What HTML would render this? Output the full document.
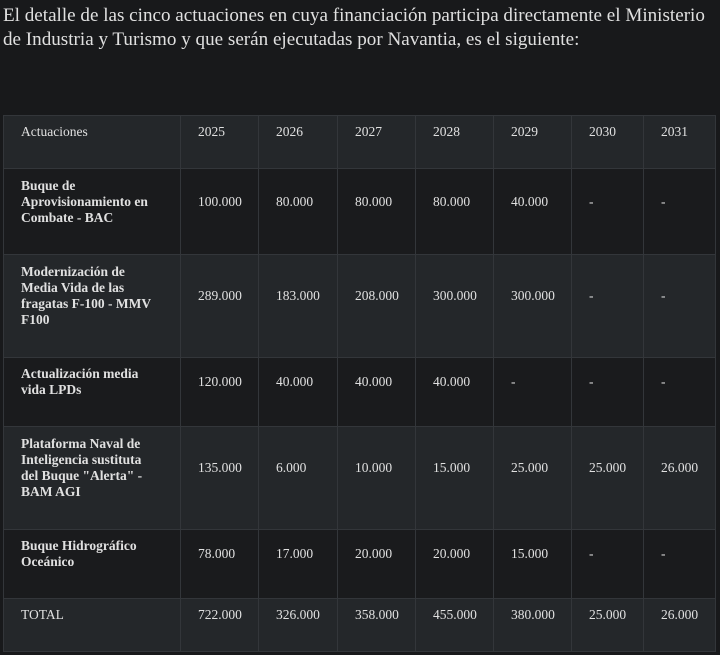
<!DOCTYPE html>
<html><head><meta charset="utf-8"><style>
body{margin:0;width:720px;height:655px;background:#18191b;color:#e0e0e0;font-family:"Liberation Serif",serif;overflow:hidden;position:relative}
#t{position:absolute;left:3px;top:4px;width:716px;font-size:19.1px;line-height:24px;margin:0;font-weight:normal;white-space:nowrap}
table{position:absolute;left:3px;top:115px;border-collapse:collapse;font-size:13.5px;line-height:16px}
td{border:1px solid #33363a;padding:8px 6px 28px 17px;vertical-align:middle;box-sizing:border-box;white-space:nowrap}
tr.l td{background:#24272a}
tr.d td{background:#1a1b1d}
td.n{font-weight:bold}
</style></head><body>
<p id="t">El detalle de las cinco actuaciones en cuya financiación participa directamente el Ministerio<br>de Industria y Turismo y que serán ejecutadas por Navantia, es el siguiente:</p>
<table>
<colgroup><col style="width:177px"><col style="width:78px"><col style="width:79px"><col style="width:78px"><col style="width:78px"><col style="width:78px"><col style="width:72px"><col style="width:72px"></colgroup>
<tr class="l" style="height:52px"><td>Actuaciones</td><td>2025</td><td>2026</td><td>2027</td><td>2028</td><td>2029</td><td>2030</td><td>2031</td></tr>
<tr class="d" style="height:86px"><td class="n">Buque de<br>Aprovisionamiento en<br>Combate - BAC</td><td>100.000</td><td>80.000</td><td>80.000</td><td>80.000</td><td>40.000</td><td>-</td><td>-</td></tr>
<tr class="l" style="height:103px"><td class="n">Modernización de<br>Media Vida de las<br>fragatas F-100 - MMV<br>F100</td><td>289.000</td><td>183.000</td><td>208.000</td><td>300.000</td><td>300.000</td><td>-</td><td>-</td></tr>
<tr class="d" style="height:69px"><td class="n">Actualización media<br>vida LPDs</td><td>120.000</td><td>40.000</td><td>40.000</td><td>40.000</td><td>-</td><td>-</td><td>-</td></tr>
<tr class="l" style="height:103px"><td class="n">Plataforma Naval de<br>Inteligencia sustituta<br>del Buque "Alerta" -<br>BAM AGI</td><td>135.000</td><td>6.000</td><td>10.000</td><td>15.000</td><td>25.000</td><td>25.000</td><td>26.000</td></tr>
<tr class="d" style="height:69px"><td class="n">Buque Hidrográfico<br>Oceánico</td><td>78.000</td><td>17.000</td><td>20.000</td><td>20.000</td><td>15.000</td><td>-</td><td>-</td></tr>
<tr class="l" style="height:53px"><td>TOTAL</td><td>722.000</td><td>326.000</td><td>358.000</td><td>455.000</td><td>380.000</td><td>25.000</td><td>26.000</td></tr>
</table>
</body></html>
